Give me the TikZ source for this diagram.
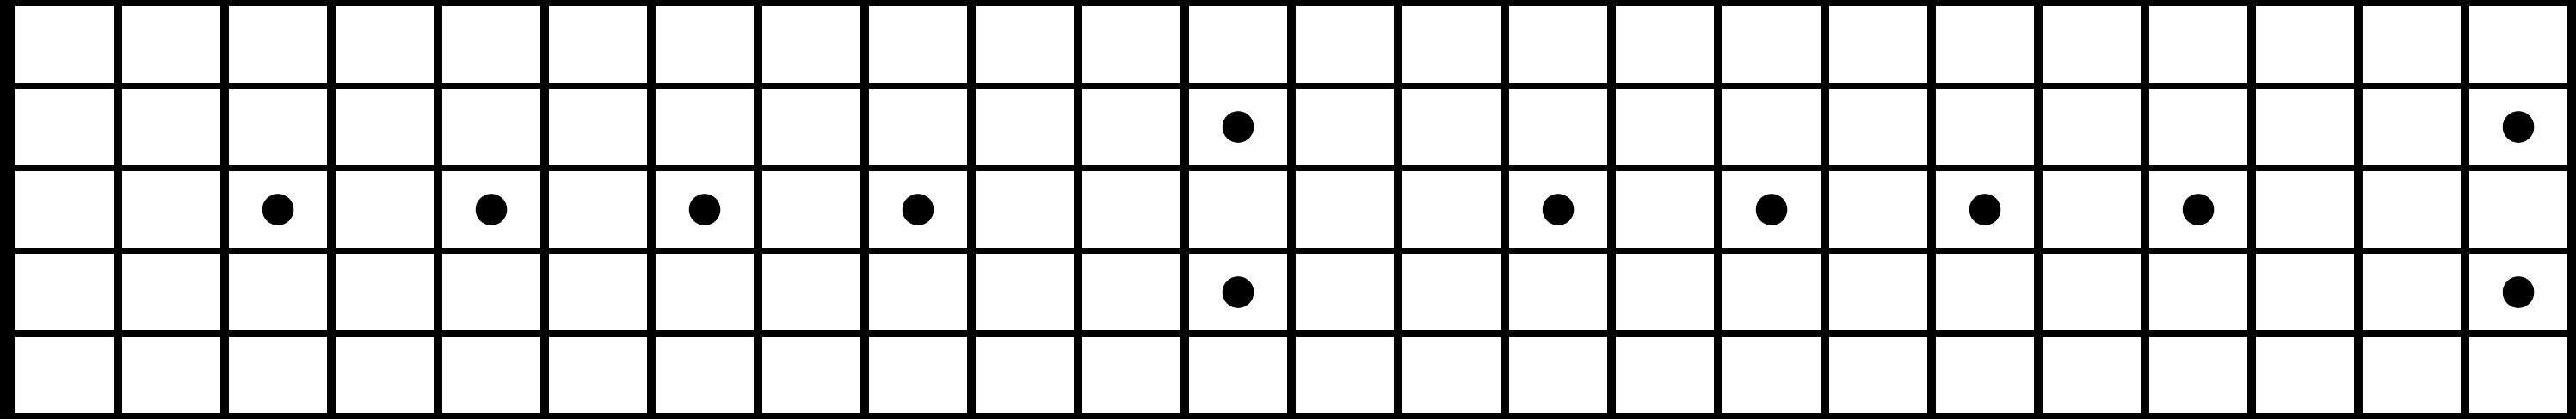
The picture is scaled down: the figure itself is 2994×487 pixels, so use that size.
\documentclass[tikz,border=0pt]{standalone}
\begin{document}
\begin{tikzpicture}[x=0.1mm,y=-0.1mm,
  stringline/.style={line width=0.7mm,black},
  fretline/.style={line width=1mm,black},
  marker/.style={circle,fill=black,inner sep=0pt,minimum size=3.66mm}]
\useasboundingbox (0,0) rectangle (2994,487);
\fill[white] (0,0) rectangle (2994,487);
% strings
\foreach \j in {0,...,5}
  \draw[stringline] (0,{3.5+96*\j}) -- (2994,{3.5+96*\j});
% frets
\foreach \k in {0,...,23}
  \draw[fretline] ({137+124*\k},0) -- ({137+124*\k},487);
% nut
\fill[black] (0,0) rectangle (18,487);
% single dots
\foreach \c in {2,4,6,8,14,16,18,20}
  \node[marker] (d\c) at ({75+124*\c},243.5) {};
% double dots
\foreach \c in {11,23} {
  \node[marker] (u\c) at ({75+124*\c},147.5) {};
  \node[marker] (l\c) at ({75+124*\c},339.5) {};
}
\end{tikzpicture}
\end{document}
